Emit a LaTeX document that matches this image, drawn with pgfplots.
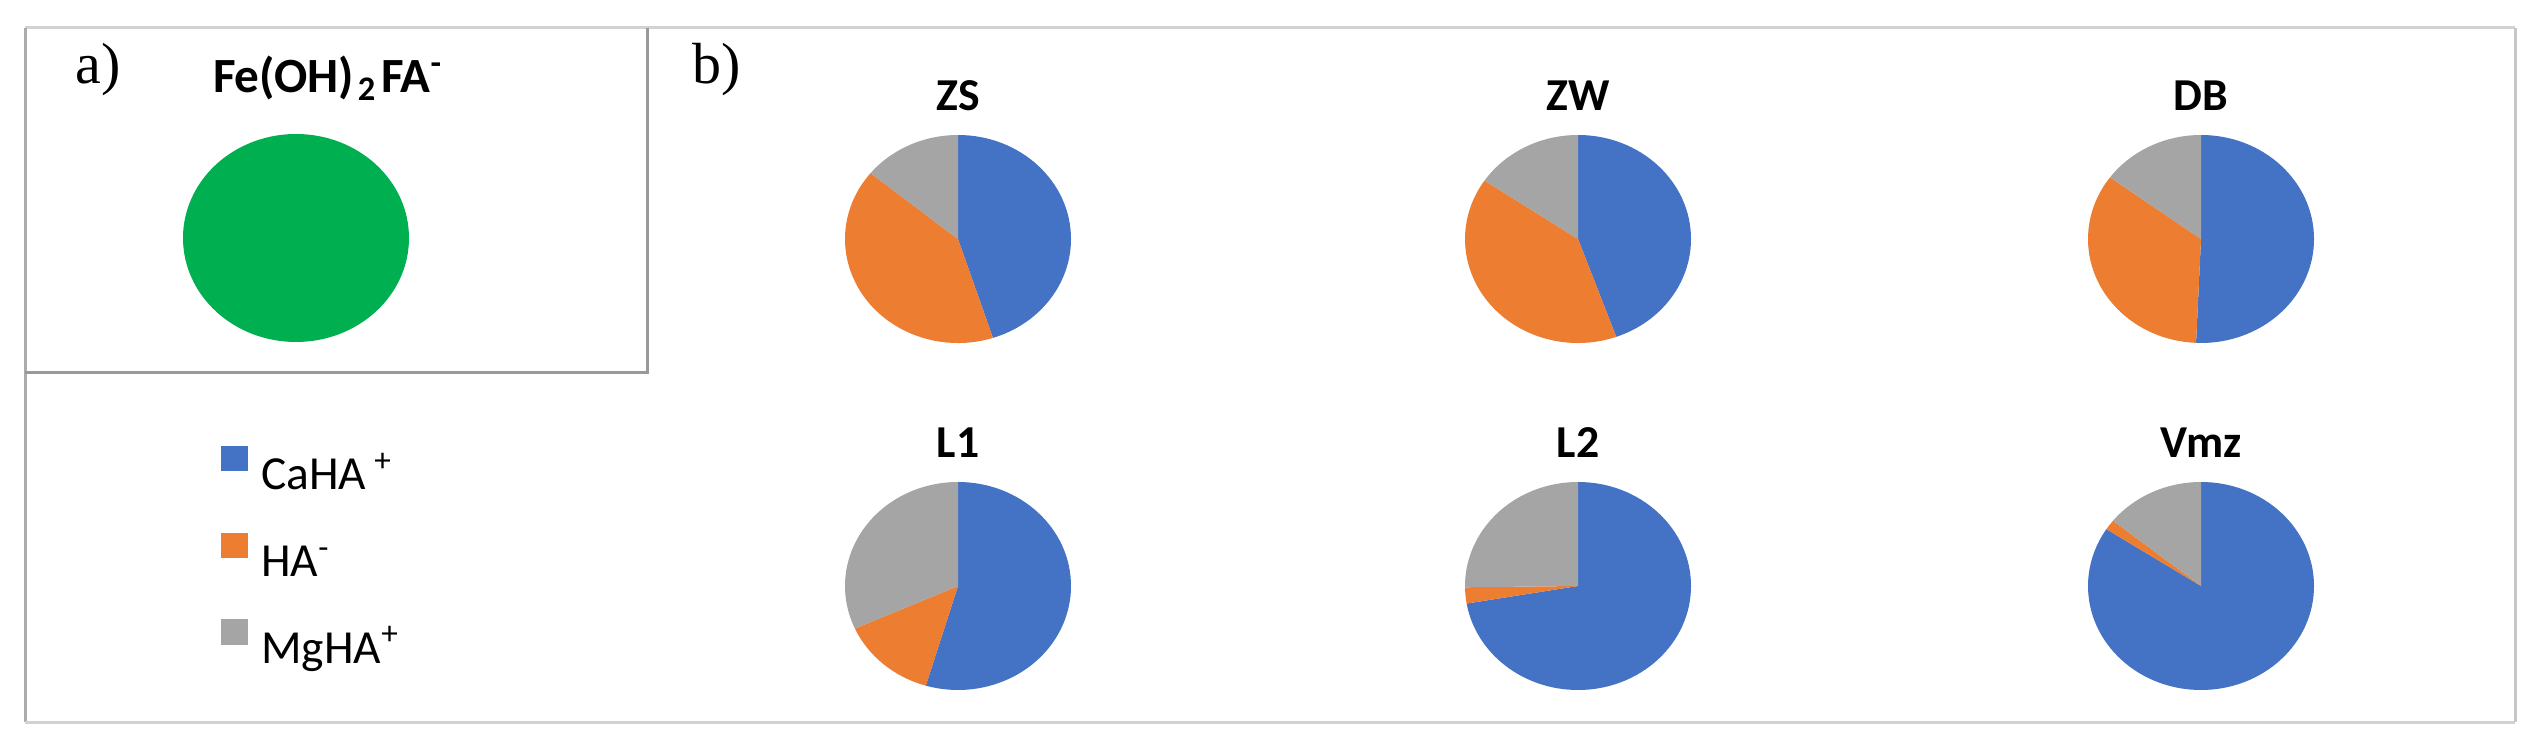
\documentclass[border=0pt]{standalone}
\usepackage{pgfplots}
\pgfplotsset{compat=1.18}
\usepackage{pgfplotstable}
\usepackage{fontspec}
\setmainfont{Carlito}
\newfontfamily\serifa{Liberation Serif}

\definecolor{cblue}{HTML}{4472C4}
\definecolor{corange}{HTML}{ED7D31}
\definecolor{cgray}{HTML}{A5A5A5}
\definecolor{cgreen}{HTML}{00B050}

% shares (%) of each species
\pgfplotstableread{
site  CaHA  HA    MgHA
ZS    45.0  40.9  14.1
ZW    44.5  40.0  15.5
DB    50.7  34.4  14.9
L1    54.6  13.7  31.7
L2    72.3   2.5  25.2
Vmz   84.2   1.6  14.2
}\piedata
\pgfplotstableread{
site     FeOH2FA
a        100
}\piedataA

\newcommand{\titlefont}{\fontsize{13}{15}\selectfont\bfseries}
\newcommand{\legfont}{\fontsize{13.5}{16}\selectfont}

\pgfplotsset{pieax/.style={hide axis, x=1.13cm, y=1.04cm,
  xmin=-1, xmax=1, ymin=-1, ymax=1, anchor=origin, clip=false,
  every axis title/.style={font=\titlefont, at={(0.5,1)}, anchor=base, yshift=0.24cm}}}

\newcommand{\pie}[4]{% x, y, row, title
  \pgfplotstablegetelem{#3}{CaHA}\of\piedata \edef\vA{\pgfplotsretval}%
  \pgfplotstablegetelem{#3}{HA}\of\piedata \edef\vB{\pgfplotsretval}%
  \pgfplotstablegetelem{#3}{MgHA}\of\piedata \edef\vC{\pgfplotsretval}%
  \begin{axis}[pieax, at={(#1cm,#2cm)}, title={#4}]
    \fill[cblue] (axis cs:0,0) -- (axis cs:0,1)
      arc[start angle=90, delta angle={-3.6*\vA}, x radius=1.13cm, y radius=1.04cm] -- cycle;
    \fill[corange] (axis cs:0,0) -- (axis cs:{cos(90-3.6*\vA)},{sin(90-3.6*\vA)})
      arc[start angle={90-3.6*\vA}, delta angle={-3.6*\vB}, x radius=1.13cm, y radius=1.04cm] -- cycle;
    \fill[cgray] (axis cs:0,0) -- (axis cs:{cos(90-3.6*(\vA+\vB))},{sin(90-3.6*(\vA+\vB))})
      arc[start angle={90-3.6*(\vA+\vB)}, delta angle={-3.6*\vC}, x radius=1.13cm, y radius=1.04cm] -- cycle;
  \end{axis}}

\begin{document}
\begin{tikzpicture}
\path (0,0) rectangle (25.37,7.53);
% frames
\draw[gray!35, line width=0.03cm] (0.25,7.25) -- (25.15,7.25);
\draw[gray!65, line width=0.03cm] (0.25,7.25) -- (0.25,0.31);
\draw[gray!35, line width=0.03cm] (0.25,0.31) -- (25.15,0.31);
\draw[gray!45, line width=0.03cm] (25.15,7.25) -- (25.15,0.31);
\draw[gray!80, line width=0.03cm] (6.47,7.25) -- (6.47,3.80) -- (0.25,3.80);

\node[anchor=base west, inner sep=0pt, font=\serifa\fontsize{16.5}{19}\selectfont] at (0.75,6.69) {a)};
\node[anchor=base west, inner sep=0pt, font=\serifa\fontsize{16.5}{19}\selectfont] at (6.92,6.69) {b)};

% a) single-species pie
\pgfplotstablegetelem{0}{FeOH2FA}\of\piedataA \edef\vG{\pgfplotsretval}
\begin{axis}[pieax, at={(2.96cm,5.15cm)},
  title={Fe(OH)\hspace{0.04cm}\textsubscript{2}\hspace{0.04cm}FA\textsuperscript{-}},
  every axis title/.append style={xshift=0.32cm, yshift=0.17cm, font=\fontsize{14}{16}\selectfont\bfseries}]
  \fill[cgreen] (axis cs:0,0) -- (axis cs:0,1)
    arc[start angle=90, delta angle={-3.6*\vG}, x radius=1.13cm, y radius=1.04cm] -- cycle;
\end{axis}

% legend
\begin{axis}[hide axis, x=1cm, y=1cm, xmin=0, xmax=1, ymin=0, ymax=1,
  at={(2.21cm,3.07cm)}, anchor=north west,
  legend style={at={(0,1)}, anchor=north west, draw=none, fill=none,
    inner sep=0pt, outer sep=0pt, row sep=0.33cm, font=\legfont,
    nodes={inner sep=0pt, text height=0.42cm, text depth=0.1cm},
    /tikz/every odd column/.append style={column sep=0.13cm}},
  legend cell align=left,
  legend image code/.code={\fill[#1] (0cm,0.03cm) rectangle (0.26cm,0.27cm);}]
  \addlegendimage{cblue}
  \addlegendentry{CaHA\,\textsuperscript{+}}
  \addlegendimage{corange}
  \addlegendentry{HA\textsuperscript{-}}
  \addlegendimage{cgray}
  \addlegendentry{MgHA\textsuperscript{+}}
\end{axis}

% b) pies
\pie{9.58}{5.14}{0}{ZS}
\pie{15.78}{5.14}{1}{ZW}
\pie{22.01}{5.14}{2}{DB}
\pie{9.58}{1.67}{3}{L1}
\pie{15.78}{1.67}{4}{L2}
\pie{22.01}{1.67}{5}{Vmz}
\end{tikzpicture}
\end{document}
